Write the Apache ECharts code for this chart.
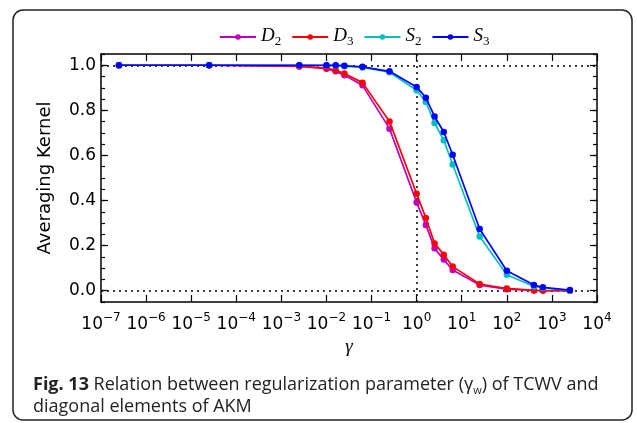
<!DOCTYPE html>
<html>
<head>
<meta charset="utf-8">
<script src="https://cdn.jsdelivr.net/npm/echarts@6/dist/echarts.min.js"></script>
<style>
  html, body { margin: 0; padding: 0; background: #fff; }
  #chart { width: 637px; height: 423px; }
</style>
</head>
<body>
<div id="chart"></div>
<script>
// Regularization parameter gamma (log scale)
const gammaValues = [2.5e-7, 2.5e-5, 2.5e-3, 1e-2, 1.6e-2, 2.5e-2, 6.3e-2, 0.25, 1, 1.6, 2.5, 4, 6.3, 25, 100, 400, 630, 2500];

// Averaging kernel diagonal elements
const seriesNames = ['D2', 'D3', 'S2', 'S3'];
const valuesD2 = [1, 1, 0.995, 0.985, 0.973, 0.956, 0.911, 0.719, 0.391, 0.292, 0.188, 0.138, 0.092, 0.025, 0.007, 0.001, 0.0005, 0.0];
const valuesD3 = [1, 1, 0.996, 0.987, 0.978, 0.963, 0.923, 0.751, 0.43, 0.323, 0.21, 0.16, 0.107, 0.03, 0.01, 0.002, 0.001, 0.0];
const valuesS2 = [1, 1, 1, 0.999, 0.998, 0.996, 0.99, 0.969, 0.889, 0.837, 0.744, 0.667, 0.56, 0.24, 0.071, 0.019, 0.012, 0.001];
const valuesS3 = [1, 1, 1, 1, 1, 0.998, 0.993, 0.973, 0.904, 0.856, 0.773, 0.704, 0.603, 0.274, 0.089, 0.025, 0.015, 0.003];
const seriesColors = ['#bf00bf', '#ff0000', '#00bfbf', '#0000ff'];

// Axis ticks
const yMajorTicks = [0, 0.2, 0.4, 0.6, 0.8, 1.0];
const xDecadeTicks = [1e-7, 1e-6, 1e-5, 1e-4, 1e-3, 1e-2, 1e-1, 1e0, 1e1, 1e2, 1e3, 1e4];

const chart = echarts.init(document.getElementById('chart'));

const tickFont = 'DejaVu Sans';
const allValues = [valuesD2, valuesD3, valuesS2, valuesS3];

const series = seriesNames.map((name, i) => ({
  name: name,
  type: 'line',
  xAxisIndex: 0,
  yAxisIndex: 0,
  data: gammaValues.map((g, k) => [g, allValues[i][k]]),
  symbol: 'circle',
  symbolSize: 6.5,
  showSymbol: true,
  lineStyle: { color: seriesColors[i], width: 1.7 },
  itemStyle: { color: seriesColors[i] },
  z: 3 + i,
  animation: false
}));

// Dotted reference lines at y = 0, y = 1 and gamma = 1
series[0].markLine = {
  silent: true,
  symbol: ['none', 'none'],
  label: { show: false },
  lineStyle: { color: '#000', type: [2, 4], width: 1.5 },
  data: [{ yAxis: 0 }, { yAxis: 1 }, { xAxis: 1 }],
  z: 1
};

const tickLine = { color: '#000', width: 1.2 };
const frameLine = { show: true, onZero: false, lineStyle: { color: '#000', width: 1.5 } };

const xBase = {
  type: 'log', logBase: 10,
  min: xDecadeTicks[0], max: xDecadeTicks[xDecadeTicks.length - 1],
  splitLine: { show: false },
  minorTick: { show: false }
};
const yBase = { type: 'value', min: -0.05, max: 1.05, gridIndex: 0, splitLine: { show: false } };

const option = {
  animation: false,
  backgroundColor: '#fff',
  grid: { left: 101, top: 54, right: 40, bottom: 121, containLabel: false },
  legend: {
    left: 214,
    top: 21,
    itemWidth: 36,
    itemHeight: 7,
    itemGap: 10,
    data: seriesNames,
    formatter: (name) => '{v|' + name[0] + '}{s|' + name[1] + '}',
    textStyle: {
      color: '#000',
      rich: {
        v: { fontFamily: 'Liberation Serif', fontStyle: 'italic', fontSize: 19, color: '#000', verticalAlign: 'bottom', padding: [0, 0, 3, 0] },
        s: { fontFamily: 'Liberation Serif', fontSize: 13, color: '#000', verticalAlign: 'bottom' }
      }
    }
  },
  xAxis: [
    Object.assign({}, xBase, {
      position: 'bottom',
      name: 'γ', nameLocation: 'middle', nameGap: 33,
      nameTextStyle: { fontFamily: 'Liberation Serif', fontStyle: 'italic', fontSize: 19, color: '#000' },
      axisLine: frameLine,
      axisTick: { show: true, inside: true, length: 7, customValues: xDecadeTicks, lineStyle: tickLine },
      axisLabel: {
        margin: 10,
        customValues: xDecadeTicks,
        formatter: (v) => {
          const e = Math.round(Math.log10(v));
          return '{b|10}{e|' + String(e).replace('-', '\u2212') + '}';
        },
        rich: {
          b: { fontFamily: tickFont, fontSize: 17, color: '#000', verticalAlign: 'bottom' },
          e: { fontFamily: tickFont, fontSize: 12, color: '#000', verticalAlign: 'bottom', padding: [0, 0, 9, 0] }
        }
      }
    }),
    Object.assign({}, xBase, {
      position: 'top',
      axisLine: frameLine,
      axisTick: { show: true, inside: true, length: 7, customValues: xDecadeTicks, lineStyle: tickLine },
      axisLabel: { show: false }
    })
  ],
  yAxis: [
    // left: minor ticks every 0.05, labels at the major values
    Object.assign({}, yBase, {
      position: 'left', interval: 0.05,
      name: 'Averaging Kernel', nameLocation: 'middle', nameGap: 47,
      nameTextStyle: { fontFamily: tickFont, fontSize: 18, color: '#000' },
      axisLine: frameLine,
      axisTick: { show: true, inside: true, length: 4, lineStyle: tickLine },
      axisLabel: {
        customValues: yMajorTicks, margin: 5,
        formatter: (v) => v.toFixed(1),
        fontFamily: tickFont, fontSize: 17, color: '#000'
      }
    }),
    // left: major ticks
    Object.assign({}, yBase, {
      position: 'left',
      axisLine: { show: false, onZero: false },
      axisTick: { show: true, inside: true, length: 7, customValues: yMajorTicks, lineStyle: tickLine },
      axisLabel: { show: false }
    }),
    // right: minor ticks
    Object.assign({}, yBase, {
      position: 'right', interval: 0.05,
      axisLine: frameLine,
      axisTick: { show: true, inside: true, length: 4, lineStyle: tickLine },
      axisLabel: { show: false }
    }),
    // right: major ticks
    Object.assign({}, yBase, {
      position: 'right',
      axisLine: { show: false, onZero: false },
      axisTick: { show: true, inside: true, length: 7, customValues: yMajorTicks, lineStyle: tickLine },
      axisLabel: { show: false }
    })
  ],
  series: series,
  graphic: [
    {
      type: 'rect',
      shape: { x: 13, y: 10, width: 619, height: 410, r: 10 },
      style: { fill: 'none', stroke: '#222', lineWidth: 1.5 },
      silent: true,
      z: 0
    },
    {
      type: 'text',
      left: 33,
      top: 374,
      style: {
        text: '{b|Fig. 13} Relation between regularization parameter (γ{w|w}) of TCWV and\ndiagonal elements of AKM',
        fontFamily: 'Open Sans',
        fontSize: 18,
        lineHeight: 22,
        fill: '#222',
        rich: {
          b: { fontFamily: 'Open Sans', fontWeight: 'bold', fontSize: 18, fill: '#222', lineHeight: 22 },
          w: { fontFamily: 'Open Sans', fontSize: 11, fill: '#222', lineHeight: 22, verticalAlign: 'bottom' }
        }
      }
    }
  ]
};

chart.setOption(option);
</script>
</body>
</html>
